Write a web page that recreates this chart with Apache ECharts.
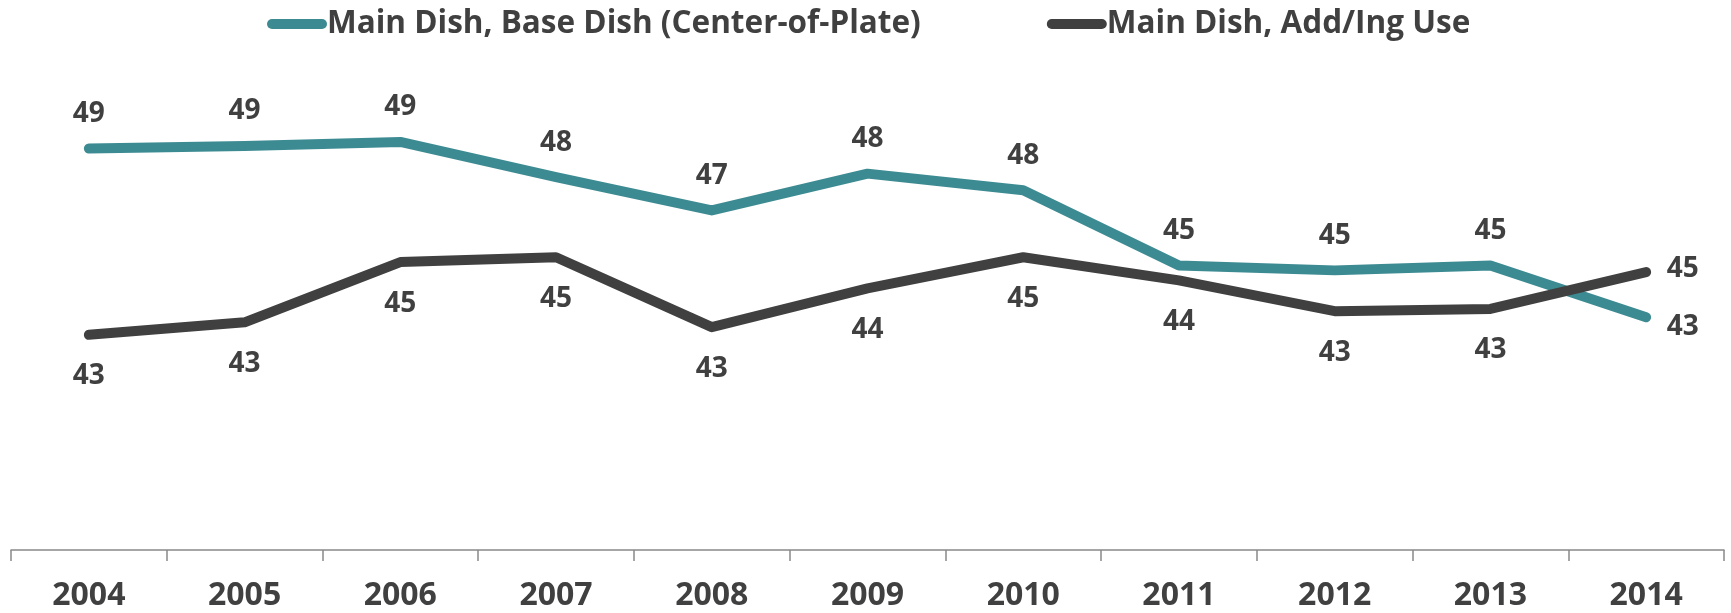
<!DOCTYPE html>
<html>
<head>
<meta charset="utf-8">
<script src="https://cdn.jsdelivr.net/npm/echarts@6/dist/echarts.min.js"></script>
<style>
html,body{margin:0;padding:0;background:#fff;}
#chart{width:1731px;height:613px;}
</style>
</head>
<body>
<div id="chart"></div>
<script>
const years = ['2004','2005','2006','2007','2008','2009','2010','2011','2012','2013','2014'];
const baseDish = [49.07, 49.16, 49.30, 48.07, 46.90, 48.19, 47.61, 44.97, 44.80, 44.97, 43.16];
const addIngUse = [42.54, 42.98, 45.09, 45.26, 42.81, 44.17, 45.26, 44.45, 43.37, 43.45, 44.74];
const seriesNames = ['Main Dish, Base Dish (Center-of-Plate)', 'Main Dish, Add/Ing Use'];

const FONT = '"Open Sans", sans-serif';
const TEXT = '#404040';
const TEAL = '#3D8B92';
const DARK = '#404040';
const capsule = 'path://M5,0 L55,0 A5,5 0 0 1 55,10 L5,10 A5,5 0 0 1 5,0 Z';

function labelFmt(p){ return String(Math.round(p.value)); }

function makeData(values, isTeal){
  return values.map(function(v, i){
    const last = i === values.length - 1;
    const item = { value: v };
    if (last) {
      item.label = { position: 'right', distance: 20, offset: isTeal ? [0, 10] : [0, -3] };
    }
    return item;
  });
}

const chart = echarts.init(document.getElementById('chart'), null, {renderer: 'canvas'});
chart.setOption({
  animation: false,
  backgroundColor: '#ffffff',
  textStyle: { fontFamily: FONT },
  legend: {
    left: 262,
    top: 3,
    itemWidth: 60,
    itemHeight: 10,
    itemGap: 126,
    icon: capsule,
    textStyle: { fontFamily: FONT, fontSize: 31.5, fontWeight: 'bold', color: TEXT, padding: [0,0,0,-5] },
    data: seriesNames
  },
  grid: { left: 11, right: 7, top: 122, bottom: 63, containLabel: false },
  xAxis: {
    type: 'category',
    data: years,
    boundaryGap: true,
    axisLine: { show: true, lineStyle: { color: '#898989', width: 1.5 } },
    axisTick: { show: true, alignWithLabel: false, length: 11, lineStyle: { color: '#898989', width: 1.5 } },
    axisLabel: { fontFamily: FONT, fontSize: 32, fontWeight: 'bold', color: TEXT, margin: 30 },
    splitLine: { show: false }
  },
  yAxis: {
    type: 'value',
    min: 35,
    max: 50,
    show: false,
    splitLine: { show: false }
  },
  series: [
    {
      name: seriesNames[0],
      type: 'line',
      data: makeData(baseDish, true),
      color: TEAL,
      symbol: 'circle',
      symbolSize: 1,
      showSymbol: true,
      itemStyle: { color: TEAL },
      lineStyle: { color: TEAL, width: 10, cap: 'round', join: 'round' },
      label: { show: true, position: 'top', distance: 20, formatter: labelFmt, fontFamily: FONT, fontSize: 28, fontWeight: 'bold', color: TEXT }
    },
    {
      name: seriesNames[1],
      type: 'line',
      data: makeData(addIngUse, false),
      color: DARK,
      symbol: 'circle',
      symbolSize: 1,
      showSymbol: true,
      itemStyle: { color: DARK },
      lineStyle: { color: DARK, width: 10, cap: 'round', join: 'round' },
      label: { show: true, position: 'bottom', distance: 27, formatter: labelFmt, fontFamily: FONT, fontSize: 28, fontWeight: 'bold', color: TEXT }
    }
  ]
});
</script>
</body>
</html>
